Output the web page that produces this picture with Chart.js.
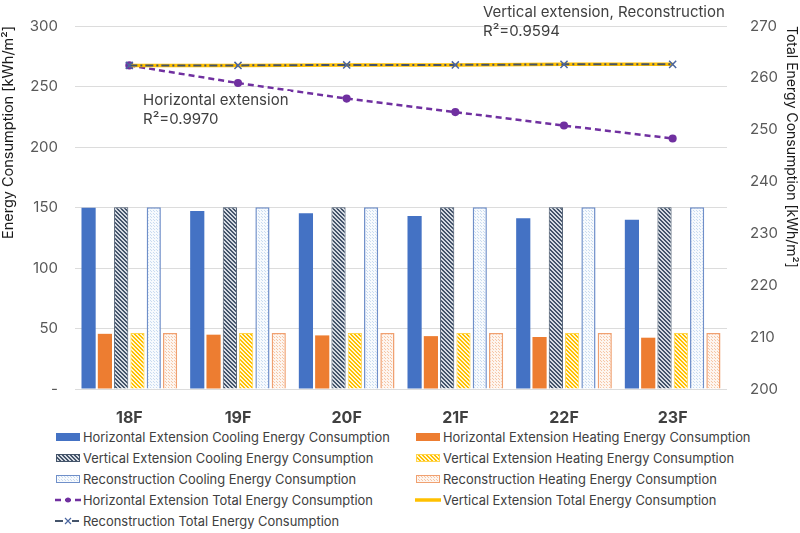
<!DOCTYPE html>
<html>
<head>
<meta charset="utf-8">
<script src="https://cdn.jsdelivr.net/npm/chart.js@4.4.1/dist/chart.umd.min.js"></script>
<style>
  body { margin: 0; background: #fff; }
  #wrap { position: relative; width: 800px; height: 533px; font-family: Inter, sans-serif; }
  #box { position: absolute; left: 0; top: 0; width: 800px; height: 425px; }
  #legend { position: absolute; left: 0; top: 427px; width: 800px; }
  .item { position: absolute; display: flex; align-items: center; height: 20px;
          font-size: 12.9px; color: #404040; white-space: nowrap; }
  .item canvas { margin-right: 2px; }
</style>
</head>
<body>
<div id="wrap">
  <div id="box"><canvas id="chart"></canvas></div>
  <div id="legend"></div>
</div>
<script>
// data
const floors = ['18F', '19F', '20F', '21F', '22F', '23F'];
const horizCooling = [149.8, 147.2, 145.2, 143.0, 141.1, 139.8];
const horizHeating = [45.6, 44.9, 44.3, 43.7, 43.0, 42.4];
const vertCooling = [150.2, 150.2, 150.2, 150.2, 150.2, 150.2];
const vertHeating = [46.3, 46.3, 46.3, 46.3, 46.3, 46.3];
const reconCooling = [150.2, 150.2, 150.2, 150.2, 150.2, 150.2];
const reconHeating = [46.3, 46.3, 46.3, 46.3, 46.3, 46.3];
const horizTotal = [262.4, 259.0, 256.0, 253.4, 250.8, 248.3];
const vertTotal = [262.4, 262.4, 262.5, 262.5, 262.6, 262.6];
const reconTotal = [262.4, 262.4, 262.5, 262.5, 262.6, 262.6];

const leftRange = [0, 300, 50];
const rightRange = [200, 270, 10];

const FONT = 'Inter, sans-serif';

// small repeating fills for the hatched bars
function makePattern(fg, bg, kind) {
    const c = document.createElement('canvas');
    const n = kind === 'dots' ? 3 : 4;
    c.width = n; c.height = n;
    const g = c.getContext('2d');
    g.fillStyle = bg;
    g.fillRect(0, 0, n, n);
    g.fillStyle = fg;
    if (kind === 'diag') {
        for (let i = 0; i < n; i++) {
            g.fillRect(i, i, 1, 1);
            g.fillRect((i + 1) % n, i, 1, 1);
        }
    } else {
        g.fillRect(0, 0, 1, 1);
        g.fillRect(1, 1, 1, 1);
    }
    return g.createPattern(c, 'repeat');
}

const vCoolFill = makePattern('#44546a', '#d6dbe3', 'diag');
const vHeatFill = makePattern('#ffc000', '#fff6d6', 'diag');
const rCoolFill = makePattern('#c9dbf0', '#f7fafd', 'dots');
const rHeatFill = makePattern('#f6c6a6', '#fdf5ef', 'dots');

function barSet(label, data, fill, border, bw) {
    return {
        type: 'bar', label: label, data: data, yAxisID: 'y',
        backgroundColor: fill, borderColor: border, borderWidth: bw,
        categoryPercentage: 0.9, barPercentage: 0.87, order: 5
    };
}

const datasets = [
    barSet('Horizontal Extension Cooling Energy Consumption', horizCooling, '#4472c4', '#4472c4', 0),
    barSet('Horizontal Extension Heating Energy Consumption', horizHeating, '#ed7d31', '#ed7d31', 0),
    barSet('Vertical Extension Cooling Energy Consumption', vertCooling, vCoolFill, '#44546a', 1),
    barSet('Vertical Extension Heating Energy Consumption', vertHeating, vHeatFill, '#ffd54f', 1),
    barSet('Reconstruction Cooling Energy Consumption', reconCooling, rCoolFill, '#6f8fc9', 1.5),
    barSet('Reconstruction Heating Energy Consumption', reconHeating, rHeatFill, '#f0a070', 1.5),
    {
        type: 'line', label: 'Horizontal Extension Total Energy Consumption', data: horizTotal,
        yAxisID: 'y2', borderColor: '#7030a0', borderWidth: 2.5, borderDash: [6, 4],
        pointStyle: 'circle', pointRadius: 2.8, pointBackgroundColor: '#7030a0',
        pointBorderColor: '#7030a0', order: 3
    },
    {
        type: 'line', label: 'Vertical Extension Total Energy Consumption', data: vertTotal,
        yAxisID: 'y2', borderColor: '#ffc000', borderWidth: 3.5, pointRadius: 0, order: 2
    },
    {
        type: 'line', label: 'Reconstruction Total Energy Consumption', data: reconTotal,
        yAxisID: 'y2', borderColor: '#44546a', borderWidth: 2, borderDash: [8, 3, 2, 3],
        pointStyle: 'crossRot', pointRadius: 5, pointBorderColor: '#4a66a0',
        pointBorderWidth: 1.5, order: 1
    }
];

// trend notes
const notes = [
    { lines: ['Vertical extension, Reconstruction', 'R\u00b2=0.9594'], x: 483, y: 12 },
    { lines: ['Horizontal extension', 'R\u00b2=0.9970'], x: 143, y: 100 }
];

const notePlugin = {
    id: 'notes',
    afterDatasetsDraw(chart) {
        const ctx = chart.ctx;
        ctx.save();
        ctx.font = '15px ' + FONT;
        ctx.textBaseline = 'middle';
        notes.forEach(n => {
            const w = Math.max(...n.lines.map(t => ctx.measureText(t).width));
            ctx.fillStyle = '#fff';
            ctx.fillRect(n.x - 2, n.y - 9, w + 4, 10);
            ctx.fillStyle = '#404040';
            n.lines.forEach((t, i) => ctx.fillText(t, n.x, n.y + i * 19));
        });
        ctx.restore();
    }
};

const chart = new Chart(document.getElementById('chart'), {
    data: { labels: floors, datasets: datasets },
    plugins: [notePlugin],
    options: {
        responsive: true,
        maintainAspectRatio: false,
        animation: false,
        layout: { autoPadding: false, padding: { top: 13, left: 0, right: 0, bottom: 0 } },
        plugins: { legend: { display: false }, tooltip: { enabled: false } },
        scales: {
            x: {
                offset: true,
                grid: { display: false },
                border: { display: false },
                ticks: { color: '#404040', padding: 12, font: { family: FONT, size: 16, weight: 'bold' } },
                afterFit(s) { s.height = 36; }
            },
            y: {
                position: 'left',
                min: leftRange[0], max: leftRange[1],
                ticks: {
                    stepSize: leftRange[2], color: '#595959', padding: 17,
                    font: { family: FONT, size: 15 },
                    callback: v => (v === 0 ? '-' : v)
                },
                grid: { color: '#dcdcdc', lineWidth: 1, drawTicks: false },
                border: { display: false },
                title: {
                    display: true, text: 'Energy Consumption [kWh/m\u00b2]', align: 'end',
                    color: '#1a1a1a', font: { family: FONT, size: 14.5 }, padding: 0
                },
                afterFit(s) { s.width = 75; }
            },
            y2: {
                position: 'right',
                min: rightRange[0], max: rightRange[1],
                ticks: { stepSize: rightRange[2], color: '#595959', padding: 15, font: { family: FONT, size: 15 } },
                grid: { display: false },
                border: { display: false },
                title: {
                    display: true, text: 'Total Energy Consumption [kWh/m\u00b2]', align: 'end',
                    color: '#1a1a1a', font: { family: FONT, size: 14 }, padding: 0
                },
                afterFit(s) { s.width = 73; }
            }
        }
    }
});

// html legend in two columns, swatches drawn with the same fills
function buildLegend() {
    const el = document.getElementById('legend');
    const colX = [55, 415];
    datasets.forEach((ds, i) => {
        const item = document.createElement('div');
        item.className = 'item';
        item.style.left = colX[i % 2] + 'px';
        item.style.top = (Math.floor(i / 2) * 21) + 'px';
        const sw = document.createElement('canvas');
        sw.width = 26; sw.height = 12;
        const g = sw.getContext('2d');
        if (ds.type === 'bar') {
            g.fillStyle = ds.backgroundColor;
            g.fillRect(1, 2, 24, 8);
            if (ds.borderWidth) {
                g.strokeStyle = ds.borderColor;
                g.lineWidth = 1;
                g.strokeRect(1.5, 2.5, 23, 7);
            }
        } else {
            g.strokeStyle = ds.borderColor;
            g.lineWidth = ds.borderWidth;
            g.setLineDash(ds.borderDash || []);
            g.beginPath(); g.moveTo(0, 6); g.lineTo(26, 6); g.stroke();
            g.setLineDash([]);
            if (ds.pointStyle === 'circle') {
                g.fillStyle = ds.pointBackgroundColor;
                g.beginPath(); g.arc(13, 6, 2.5, 0, Math.PI * 2); g.fill();
            } else if (ds.pointStyle === 'crossRot') {
                g.clearRect(9, 1, 8, 10);
                g.strokeStyle = ds.pointBorderColor;
                g.lineWidth = 1.2;
                g.beginPath();
                g.moveTo(10, 3); g.lineTo(16, 9);
                g.moveTo(16, 3); g.lineTo(10, 9);
                g.stroke();
            }
        }
        item.appendChild(sw);
        const t = document.createElement('span');
        t.textContent = ds.label;
        item.appendChild(t);
        el.appendChild(item);
    });
}
buildLegend();
</script>
</body>
</html>
